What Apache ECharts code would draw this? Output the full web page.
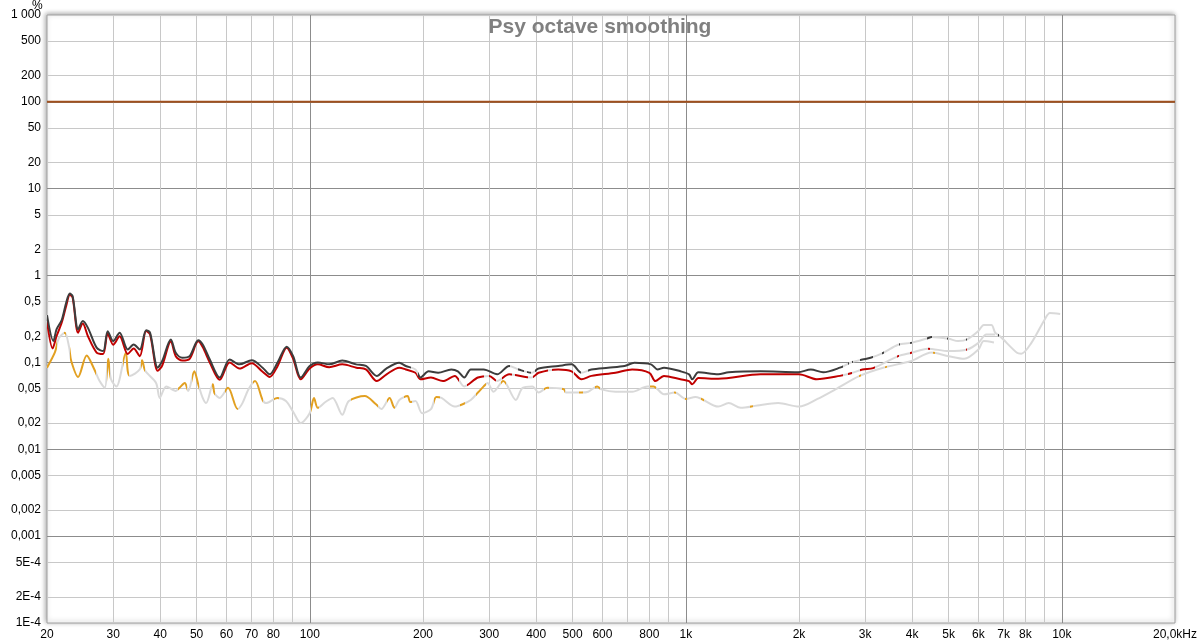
<!DOCTYPE html>
<html><head><meta charset="utf-8">
<script src="https://cdn.jsdelivr.net/npm/echarts@6/dist/echarts.min.js"></script>
<style>html,body{margin:0;padding:0;background:#fff}#c{width:1200px;height:644px}</style>
</head><body><div id="c"></div>
<script>
// ---- axis ticks / labels ----
const xMinorTicks = [30,40,50,60,70,80,90,200,300,400,500,600,700,800,900,2000,3000,4000,5000,6000,7000,8000,9000];
const xMajorTicks = [100,1000,10000];
const xLabelValues = [20,30,40,50,60,70,80,100,200,300,400,500,600,800,1000,2000,3000,4000,5000,6000,7000,8000,10000,20000];
const xLabelTexts = ['20','30','40','50','60','70','80','100','200','300','400','500','600','800','1k','2k','3k','4k','5k','6k','7k','8k','10k','20,0kHz'];
const yMinorTicks = [500,200,50,20,5,2,0.5,0.2,0.05,0.02,0.005,0.002,0.0005,0.0002];
const yMajorTicks = [100,10,1,0.1,0.01,0.001];
const yLabelValues = [1000,500,200,100,50,20,10,5,2,1,0.5,0.2,0.1,0.05,0.02,0.01,0.005,0.002,0.001,0.0005,0.0002,0.0001];
const yLabelTexts = ['1 000','500','200','100','50','20','10','5','2','1','0,5','0,2','0,1','0,05','0,02','0,01','0,005','0,002','0,001','5E-4','2E-4','1E-4'];

// ---- series data [Hz, %] ----
const fundamental = [[20,100],[20000,100]];
const thd = [[20,0.35],[20.8,0.176],[21.2,0.24],[21.9,0.31],[22.5,0.49],[23.0,0.62],[23.4,0.58],[24.2,0.24],[24.9,0.30],[25.7,0.25],[27.1,0.148],[28.2,0.135],[29.0,0.229],[30.0,0.176],[31.2,0.22],[32.8,0.141],[34.0,0.161],[35.3,0.141],[36.7,0.235],[37.6,0.22],[39.4,0.087],[40.5,0.104],[42.7,0.184],[44.0,0.129],[45.8,0.113],[47.9,0.118],[50.5,0.18],[51.9,0.161],[54.2,0.108],[57.6,0.067],[61.2,0.108],[65.0,0.095],[70.1,0.106],[74.9,0.087],[78.2,0.073],[82.0,0.099],[86.8,0.152],[90.3,0.118],[94.6,0.067],[99.9,0.091],[105,0.1],[112.6,0.095],[122,0.105],[132.8,0.095],[141,0.091],[150.7,0.070],[159.7,0.085],[172.9,0.099],[180,0.091],[191,0.083],[197,0.067],[207,0.079],[219.5,0.076],[237.8,0.083],[247.6,0.079],[257.5,0.067],[268,0.083],[290,0.083],[315,0.073],[339,0.091],[359,0.083],[389,0.076],[406,0.085],[458,0.091],[497,0.095],[528,0.076],[561,0.083],[621,0.087],[687,0.091],[730,0.099],[808,0.095],[841,0.083],[875,0.087],[968,0.079],[1020,0.073],[1040,0.064],[1080,0.077],[1220,0.073],[1300,0.077],[1580,0.079],[1990,0.077],[2150,0.083],[2320,0.077],[2570,0.087],[2750,0.1],[2950,0.108],[3100,0.113],[3350,0.129],[3670,0.16],[3980,0.168],[4400,0.19],[4500,0.196],[5000,0.187],[5300,0.176],[5600,0.184],[6000,0.23],[6200,0.27],[6500,0.27],[6650,0.22],[6850,0.2],[7600,0.129],[7800,0.126],[8300,0.168],[9000,0.31],[9300,0.37],[9900,0.36]];
const h2 = [[20,0.3],[20.7,0.145],[21.2,0.2],[21.9,0.29],[22.5,0.45],[23.0,0.6],[23.4,0.56],[24.2,0.22],[24.9,0.28],[25.7,0.2],[27.1,0.13],[28.2,0.125],[29.0,0.215],[30.0,0.16],[31.2,0.2],[32.8,0.125],[34.0,0.145],[35.3,0.118],[36.7,0.23],[37.6,0.21],[39.4,0.08],[40.5,0.092],[42.7,0.175],[44.0,0.118],[45.8,0.105],[47.9,0.11],[50.5,0.175],[51.9,0.15],[54.2,0.1],[57.6,0.063],[61.2,0.1],[65.0,0.085],[70.1,0.098],[74.9,0.078],[78.2,0.068],[82.0,0.09],[86.8,0.148],[90.3,0.11],[94.6,0.064],[99.9,0.085],[105,0.095],[112.6,0.088],[122,0.095],[133,0.087],[141,0.083],[150.7,0.061],[160,0.073],[173,0.087],[180,0.083],[191,0.076],[197,0.064],[210,0.067],[226,0.061],[243,0.070],[257.5,0.053],[280,0.067],[300,0.070],[315,0.061],[339,0.073],[389,0.067],[406,0.076],[458,0.083],[497,0.079],[528,0.064],[561,0.070],[650,0.076],[720,0.083],[800,0.076],[830,0.061],[875,0.070],[968,0.064],[1020,0.061],[1040,0.056],[1080,0.066],[1220,0.065],[1580,0.073],[2000,0.073],[2230,0.064],[2570,0.07],[2750,0.075],[2950,0.083],[3150,0.086],[3670,0.118],[3980,0.129],[4400,0.144],[5000,0.135],[5600,0.141],[6000,0.168],[6300,0.21],[6650,0.21]];
const h3 = [[20,0.087],[21,0.131],[21.5,0.19],[22.3,0.22],[22.9,0.15],[23.2,0.104],[24.2,0.068],[25.5,0.12],[26.6,0.087],[27.6,0.061],[28.5,0.051],[29.1,0.11],[29.6,0.064],[30.6,0.053],[32.4,0.129],[32.8,0.079],[33.2,0.07],[35.3,0.083],[35.8,0.106],[36.5,0.08],[39,0.058],[39.9,0.039],[41.5,0.053],[44,0.047],[45,0.051],[46.5,0.058],[47.5,0.047],[49.3,0.079],[50.5,0.056],[51.9,0.039],[53,0.034],[55.2,0.056],[55.8,0.044],[57.6,0.039],[60.6,0.051],[64.3,0.029],[66.2,0.034],[68.7,0.049],[71.5,0.061],[74.9,0.037],[76.5,0.034],[82,0.039],[86.4,0.036],[90.3,0.027],[94.6,0.020],[99.9,0.026],[102.6,0.039],[105,0.030],[110,0.035],[115,0.039],[122,0.025],[127,0.036],[140,0.041],[150,0.033],[155,0.029],[163,0.039],[168,0.030],[173,0.037],[182,0.041],[185,0.035],[191,0.036],[199,0.026],[210,0.029],[217,0.04],[224,0.039],[243,0.031],[255,0.033],[268,0.037],[280,0.045],[290,0.053],[297,0.058],[308,0.046],[327,0.061],[353,0.037],[368,0.051],[391,0.053],[406,0.045],[428,0.051],[474,0.049],[480,0.045],[528,0.045],[550,0.046],[581,0.053],[596,0.049],[650,0.046],[720,0.046],[790,0.053],[820,0.053],[875,0.043],[935,0.045],[1000,0.038],[1060,0.040],[1220,0.031],[1300,0.034],[1400,0.030],[1550,0.032],[1760,0.034],[2000,0.031],[2240,0.038],[2500,0.049],[2900,0.07],[3350,0.087],[3980,0.104],[4500,0.13],[5000,0.118],[5500,0.11],[6000,0.141],[6200,0.176],[6600,0.17]];

// frequency ranges where each trace is drawn in its own colour (faded grey elsewhere)
const thdSolid = [[20,186],[194,340],[358,372],[378,388],[398,525],[548,2620],[2700,2720],[2760,2790],[2900,3150],[3330,3370],[3700,3720],[3950,3990],[4380,4520],[4950,4980],[5550,5580],[6750,6800]];
const h2Solid = [[20,250],[262,290],[300,312],[325,345],[352,380],[392,430],[440,500],[505,2620],[2700,2760],[2900,3180],[3650,3700],[3950,4000],[4400,4450],[5550,5600]];
const h3Solid = [[20,21.2],[22.2,22.4],[23.0,27.0],[28.9,29.4],[31.8,33.0],[35.5,36.5],[44.6,47],[48.5,50.8],[54.8,56],[59.5,64.5],[70.5,75],[80.5,83],[101,106],[129,152],[160,169],[178,187],[214,222],[251,258],[276,294],[322,332],[420,432],[468,478],[520,532],[575,590],[805,835],[930,940],[995,1005],[1100,1115],[1480,1510],[2880,2920],[3380,3420],[4550,4600]];

const FADE = '#d9d9d9';
const C_THD = '#3d3d3d', C_H2 = '#c00000', C_H3 = '#e2a021', C_FUND = '#a0501e';
const FONT = 'Liberation Sans, Arial, sans-serif';

function labelFor(vals, texts) {
  return function (v) {
    for (let i = 0; i < vals.length; i++) {
      if (Math.abs(Math.log10(v) - Math.log10(vals[i])) < 1e-6) return texts[i];
    }
    return '';
  };
}
function pieces(ranges, color) { return ranges.map(r => ({gte: r[0], lte: r[1], color: color})); }

const chart = echarts.init(document.getElementById('c'), null, {renderer: 'canvas'});
const baseX = {type: 'log', logBase: 10, min: 20, max: 20000, gridIndex: 0, position: 'bottom',
  axisLine: {show: false}, axisTick: {show: false}};
const baseY = {type: 'log', logBase: 10, min: 0.0001, max: 1000, gridIndex: 0, position: 'left',
  axisLine: {show: false}, axisTick: {show: false}};
chart.setOption({
  animation: false,
  title: {text: 'Psy octave smoothing', left: 'center', top: 12,
    textStyle: {color: '#808080', fontSize: 21, fontWeight: 'bold', fontFamily: FONT}},
  graphic: [{type: 'text', left: 32, top: 0, style: {text: '%', fontSize: 12, fontFamily: FONT, fill: '#000'}}],
  grid: {left: 47, right: 23, top: 15, bottom: 21, show: true, borderColor: '#a0a0a0', borderWidth: 1,
    backgroundColor: '#fff', shadowColor: 'rgba(0,0,0,0.35)', shadowBlur: 5, shadowOffsetX: -1, shadowOffsetY: -1},
  xAxis: [
    Object.assign({}, baseX, {
      axisTick: {show: false, customValues: xMinorTicks},
      axisLabel: {show: false},
      splitLine: {show: true, lineStyle: {color: '#c8c8c8', width: 1}}}),
    Object.assign({}, baseX, {
      axisTick: {show: false, customValues: xMajorTicks},
      axisLabel: {show: false},
      splitLine: {show: true, lineStyle: {color: '#8c8c8c', width: 1}}}),
    Object.assign({}, baseX, {
      axisTick: {show: false, customValues: xLabelValues},
      axisLabel: {show: true, customValues: xLabelValues, formatter: labelFor(xLabelValues, xLabelTexts),
        color: '#000', fontSize: 12, fontFamily: FONT, margin: 6, hideOverlap: false},
      splitLine: {show: false}})
  ],
  yAxis: [
    Object.assign({}, baseY, {
      axisTick: {show: false, customValues: yMinorTicks},
      axisLabel: {show: false},
      splitLine: {show: true, lineStyle: {color: '#c8c8c8', width: 1}}}),
    Object.assign({}, baseY, {
      axisTick: {show: false, customValues: yMajorTicks},
      axisLabel: {show: false},
      splitLine: {show: true, lineStyle: {color: '#8c8c8c', width: 1}}}),
    Object.assign({}, baseY, {
      axisTick: {show: false, customValues: yLabelValues},
      axisLabel: {show: true, customValues: yLabelValues, formatter: labelFor(yLabelValues, yLabelTexts),
        color: '#000', fontSize: 12, fontFamily: FONT, margin: 6, hideOverlap: false},
      splitLine: {show: false}})
  ],
  visualMap: [
    {show: false, type: 'piecewise', seriesIndex: 1, dimension: 0, pieces: pieces(h3Solid, C_H3), outOfRange: {color: FADE}},
    {show: false, type: 'piecewise', seriesIndex: 2, dimension: 0, pieces: pieces(h2Solid, C_H2), outOfRange: {color: FADE}},
    {show: false, type: 'piecewise', seriesIndex: 3, dimension: 0, pieces: pieces(thdSolid, C_THD), outOfRange: {color: FADE}}
  ],
  series: [
    {type: 'line', name: 'Fundamental', data: fundamental, showSymbol: false, lineStyle: {color: C_FUND, width: 2}, itemStyle: {color: C_FUND}},
    {type: 'line', name: 'H3', data: h3, showSymbol: false, smooth: 0.3, lineStyle: {width: 2}},
    {type: 'line', name: 'H2', data: h2, showSymbol: false, smooth: 0.3, lineStyle: {width: 2}},
    {type: 'line', name: 'THD', data: thd, showSymbol: false, smooth: 0.3, lineStyle: {width: 2}}
  ]
});
</script></body></html>
